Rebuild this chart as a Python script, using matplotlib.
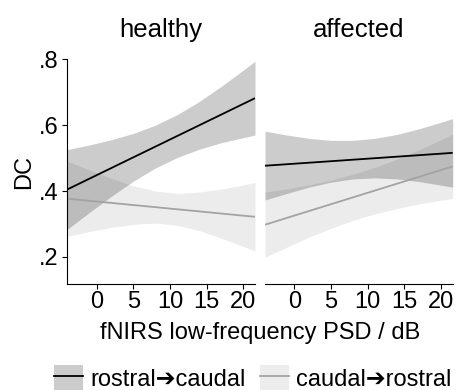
import matplotlib
matplotlib.use('Agg')
import matplotlib.pyplot as plt
from matplotlib.patches import Patch
from matplotlib.lines import Line2D
from matplotlib.legend_handler import HandlerTuple

plt.rcParams['font.family'] = ['Liberation Sans', 'DejaVu Sans']

# ---------------- data ----------------
panels = ['healthy', 'affected']
directions = ['rostral\u2794caudal', 'caudal\u2794rostral']

x_grid = [-4, -1, 2, 5, 8, 11, 14, 17, 20, 21.6]
x_ends = [-4, 21.6]

healthy_rc_line = [0.405, 0.682]
healthy_cr_line = [0.377, 0.322]
affected_rc_line = [0.477, 0.516]
affected_cr_line = [0.298, 0.475]

healthy_rc_upper = [.526, .540, .556, .575, .600, .632, .672, .718, .767, .794]
healthy_rc_lower = [.284, .335, .384, .430, .470, .502, .527, .547, .562, .570]
healthy_cr_upper = [.491, .464, .439, .416, .400, .393, .397, .406, .419, .426]
healthy_cr_lower = [.263, .277, .290, .299, .303, .296, .280, .257, .232, .218]

affected_rc_upper = [.582, .570, .560, .554, .554, .560, .572, .589, .609, .620]
affected_rc_lower = [.373, .393, .412, .427, .437, .440, .437, .429, .418, .412]
affected_cr_upper = [.397, .407, .419, .433, .451, .472, .497, .525, .556, .573]
affected_cr_lower = [.199, .230, .260, .287, .311, .331, .347, .361, .372, .378]

x_ticks = [0, 5, 10, 15, 20]
x_tick_labels = ['0', '5', '10', '15', '20']
y_ticks = [0.2, 0.4, 0.6, 0.8]
y_tick_labels = ['.2', '.4', '.6', '.8']

# ---------------- style ----------------
FS = 17
rc_fill = dict(color='black', alpha=0.2, lw=0)
cr_fill = dict(color='black', alpha=0.075, lw=0)
rc_col = 'black'
cr_col = '#a3a3a3'
LW = 1.3

W, H = 460, 390
fig = plt.figure(figsize=(W / 100, H / 100), dpi=100)
ax_bottom = 1 - 284 / H
ax_h = (284 - 59.3) / H
ax1 = fig.add_axes([67.3 / W, ax_bottom, 187.7 / W, ax_h])
ax2 = fig.add_axes([265 / W, ax_bottom, 187.7 / W, ax_h])

series = {
    'healthy': (healthy_rc_line, healthy_rc_upper, healthy_rc_lower,
                healthy_cr_line, healthy_cr_upper, healthy_cr_lower),
    'affected': (affected_rc_line, affected_rc_upper, affected_rc_lower,
                 affected_cr_line, affected_cr_upper, affected_cr_lower),
}

for ax, name in zip([ax1, ax2], panels):
    rc_l, rc_u, rc_lo, cr_l, cr_u, cr_lo = series[name]
    ax.fill_between(x_grid, cr_lo, cr_u, **cr_fill)
    ax.fill_between(x_grid, rc_lo, rc_u, **rc_fill)
    ax.plot(x_ends, cr_l, color=cr_col, lw=LW, solid_capstyle='butt')
    ax.plot(x_ends, rc_l, color=rc_col, lw=LW, solid_capstyle='butt')
    ax.set_xlim(-4, 21.6)
    ax.set_ylim(0.118, 0.80)
    ax.set_xticks(x_ticks)
    ax.set_xticklabels(x_tick_labels)
    ax.spines['top'].set_visible(False)
    ax.spines['right'].set_visible(False)
    ax.spines['bottom'].set_linewidth(0.8)
    ax.spines['left'].set_linewidth(0.8)
    ax.tick_params(axis='both', direction='out', length=3.5, width=0.8,
                   labelsize=FS, colors='black')
    ax.tick_params(axis='x', pad=1.5)
    ax.tick_params(axis='y', pad=3)
    ax.set_title(name, fontsize=18.5, pad=16)

ax1.set_yticks(y_ticks)
ax1.set_yticklabels(y_tick_labels)
ax2.spines['left'].set_visible(False)
ax2.set_yticks([])

fig.text(24 / W, 1 - 171.7 / H, 'DC', rotation=90, ha='center', va='center',
         fontsize=FS)
fig.text(260 / W, 1 - 339 / H, 'fNIRS low-frequency PSD / dB', ha='center',
         va='baseline', fontsize=FS)

handles = [
    (Patch(facecolor='black', alpha=0.2, lw=0), Line2D([], [], color=rc_col, lw=LW)),
    (Patch(facecolor='black', alpha=0.075, lw=0), Line2D([], [], color=cr_col, lw=LW)),
]
fig.legend(handles=handles, labels=directions,
           handler_map={tuple: HandlerTuple(ndivide=1)},
           ncol=2, loc='center', bbox_to_anchor=(253 / W, 1 - 378 / H),
           frameon=False, fontsize=FS, handlelength=1.23, handleheight=1.23,
           handletextpad=0.3, columnspacing=0.6, borderaxespad=0, borderpad=0)

fig.savefig('out.png', dpi=100)
